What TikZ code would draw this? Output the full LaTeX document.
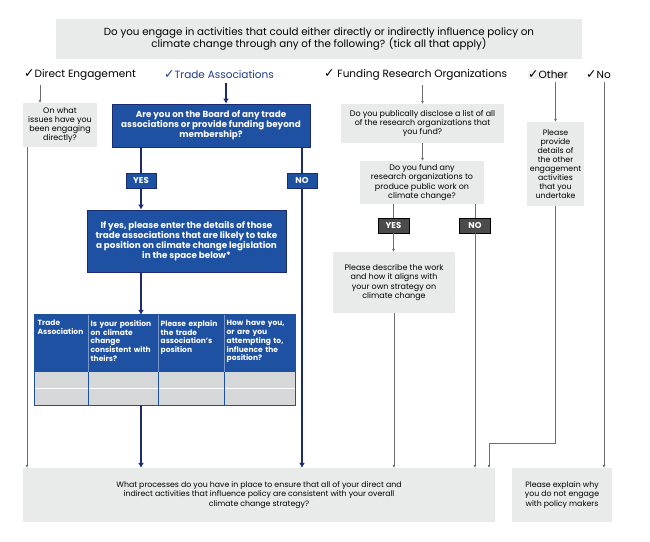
\documentclass[tikz,border=0pt]{standalone}
\usepackage{fontspec}
\setmainfont{Poppins}
\newfontfamily\checkfont{DejaVu Sans}
\usetikzlibrary{arrows.meta}
\definecolor{boxgrey}{HTML}{E9EAEA}
\definecolor{rowgrey}{HTML}{D6D7D9}
\definecolor{cdpblue}{HTML}{1F51A3}
\definecolor{cdpnavy}{HTML}{1B2C72}
\definecolor{linegrey}{HTML}{6E6E6E}
\definecolor{taggrey}{HTML}{4B4B4B}
\definecolor{labelblue}{HTML}{1F3C8C}
\newcommand{\tick}{{\checkfont\fontsize{12.5}{12}\selectfont ✓}}
\newcommand{\fsz}[2]{\fontsize{#1}{#2}\selectfont}
\begin{document}
\begin{tikzpicture}[x=1pt, y=1pt,
    greybox/.style={fill=boxgrey, align=center, inner sep=0pt, font=\fsz{8}{9.2}},
    bluebox/.style={fill=cdpblue, draw=cdpnavy, line width=1pt, text=white, align=center, inner sep=0pt, font=\bfseries\fsz{8.8}{9.8}},
    bluetag/.style={fill=cdpblue, draw=cdpnavy, line width=0.8pt, text=white, font=\bfseries\fsz{8.5}{10}, minimum width=30pt, minimum height=15pt, inner sep=0pt},
    greytag/.style={fill=taggrey, draw=black, line width=0.8pt, text=white, font=\bfseries\fsz{8.5}{10}, minimum width=31pt, minimum height=15pt, inner sep=0pt},
    head/.style={font=\fsz{10.5}{12}, anchor=west, inner sep=0pt},
    colhead/.style={anchor=north west, inner sep=0pt, text=white, align=left, font=\bfseries\fsz{7.5}{8.8}},
    gline/.style={draw=linegrey, line width=0.9pt},
    garrow/.style={gline, -{Latex[length=3pt,width=3pt]}},
    bline/.style={draw=cdpnavy, line width=1.6pt},
    barrow/.style={bline, -{Latex[length=5pt,width=6pt]}}]
    \useasboundingbox (0,0) rectangle (650,-541);

    % question on top
    \node[greybox, minimum width=526, minimum height=40, font=\fsz{10.3}{12.5}] (top) at (319,-39)
        {Do you engage in activities that could either directly or indirectly influence policy on\\climate change through any of the following? (tick all that apply)};

    % the five ticks
    \node[head] (dirlab) at (24,-75) {\tick Direct Engagement};
    \node[head, text=labelblue] (tradelab) at (164,-75) {\tick Trade Associations};
    \node[head] (fundlab) at (324,-75) {\tick\ Funding Research Organizations};
    \node[head, fill=boxgrey!70] (otherlab) at (528,-75) {\tick Other};
    \node[head] (nolab) at (586,-75) {\tick No};

    % direct engagement
    \node[greybox, minimum width=74, minimum height=44, font=\fsz{8}{9}] (direct) at (60,-125)
        {On what\\issues have you\\been engaging\\directly?};

    % trade associations
    \node[bluebox, minimum width=198, minimum height=43] (board) at (211,-125.5)
        {Are you on the Board of any trade\\associations or provide funding beyond\\membership?};
    \node[bluetag] (yesA) at (141,-180.5) {YES};
    \node[bluetag] (noA) at (302,-180.5) {NO};
    \node[bluebox, minimum width=199, minimum height=62] (details) at (186.5,-241)
        {If yes, please enter the details of those\\trade associations that are likely to take\\a position on climate change legislation\\in the space below*};

    % table
    \node[minimum width=260, minimum height=90, inner sep=0pt] (table) at (165,-360) {};
    \fill[rowgrey] (35,-372) rectangle (295,-405);
    \fill[cdpblue] (35,-315) rectangle (295,-372);
    \draw[white, line width=0.8pt] (35,-388) -- (295,-388);
    \foreach \cx in {88,158,224} {
        \draw[cdpblue!60!white, line width=0.6pt] (\cx,-315) -- (\cx,-372);
        \draw[cdpblue, line width=0.6pt] (\cx,-372) -- (\cx,-405);
    }
    \draw[cdpblue, line width=1pt] (table.north west) rectangle (table.south east);
    \node[colhead, text width=50] (cola) at (37.5,-320) {Trade\\Association};
    \node[colhead, text width=68] (colb) at (90.5,-320) {Is your position\\on climate\\change\\consistent with\\theirs?};
    \node[colhead, text width=64] (colc) at (160.5,-320) {Please explain\\the trade\\association’s\\position};
    \node[colhead, text width=70] (cold) at (226.5,-320) {How have you,\\or are you\\attempting to,\\influence the\\position?};

    % funding research organizations
    \node[greybox, minimum width=163, minimum height=39] (fundA) at (422.5,-123.5)
        {Do you publically disclose a list of all\\of the research organizations that\\you fund?};
    \node[greybox, minimum width=124, minimum height=43] (fundB) at (422,-182.5)
        {Do you fund any\\research organizations to\\produce public work on\\climate change?};
    \node[greytag] (yesB) at (393.5,-225.5) {YES};
    \node[greytag] (noB) at (475,-225.5) {NO};
    \node[greybox, minimum width=122, minimum height=61] (describe) at (394,-282.5)
        {Please describe the work\\and how it aligns with\\your own strategy on\\climate change};

    % other
    \node[greybox, minimum width=57, minimum height=84, font=\fsz{7.8}{9.1}] (other) at (555.5,-164)
        {Please\\provide\\details of\\the other\\engagement\\activities\\that you\\undertake};

    % bottom boxes
    \node[greybox, minimum width=472, minimum height=54, font=\fsz{7.8}{9.4}] (bottom) at (259,-495)
        {What processes do you have in place to ensure that all of your direct and\\indirect activities that influence policy are consistent with your overall\\climate change strategy?};
    \node[greybox, minimum width=100, minimum height=54, font=\fsz{7.8}{9.4}] (right) at (562,-495)
        {Please explain why\\you do not engage\\with policy makers};

    % x positions of the lines
    \coordinate (dlx) at (40,0);
    \coordinate (ddx) at (27,0);
    \coordinate (tlx) at (226,0);
    \coordinate (nox) at (604,0);
    \coordinate (elbow) at (489,-443);

    % connectors
    \draw[garrow, shorten <=4pt] (dlx |- dirlab.south) -- (dlx |- direct.north);
    \draw[garrow] (ddx |- direct.south) -- (ddx |- bottom.north);
    \draw[barrow, shorten <=4pt] (tlx |- tradelab.south) -- (tlx |- board.north);
    \draw[bline] (board.south -| yesA) -- (yesA);
    \draw[barrow] (yesA) -- (details.north -| yesA);
    \draw[bline] (board.south -| noA) -- (noA);
    \draw[barrow] (noA) -- (bottom.north -| noA);
    \draw[barrow] (details.south -| yesA) -- (table.north -| yesA);
    \draw[barrow] (table.south -| yesA) -- (bottom.north -| yesA);
    \draw[garrow, shorten <=4pt] (fundA.north |- fundlab.south) -- (fundA.north);
    \draw[garrow] (fundA.south) -- (fundA.south |- fundB.north);
    \draw[gline] (fundB.south -| yesB) -- (yesB);
    \draw[garrow] (yesB) -- (describe.north -| yesB);
    \draw[gline] (fundB.south -| noB) -- (noB);
    \draw[garrow] (noB) -- (bottom.north -| noB);
    \draw[garrow] (describe.south) -- (describe.south |- bottom.north);
    \draw[garrow, shorten <=3pt] (other.north |- otherlab.south) -- (other.north);
    \draw[garrow] (other.south) |- (elbow) -- (elbow |- bottom.north);
    \draw[garrow, shorten <=3pt] (nox |- nolab.south) -- (nox |- right.north);
\end{tikzpicture}
\end{document}
